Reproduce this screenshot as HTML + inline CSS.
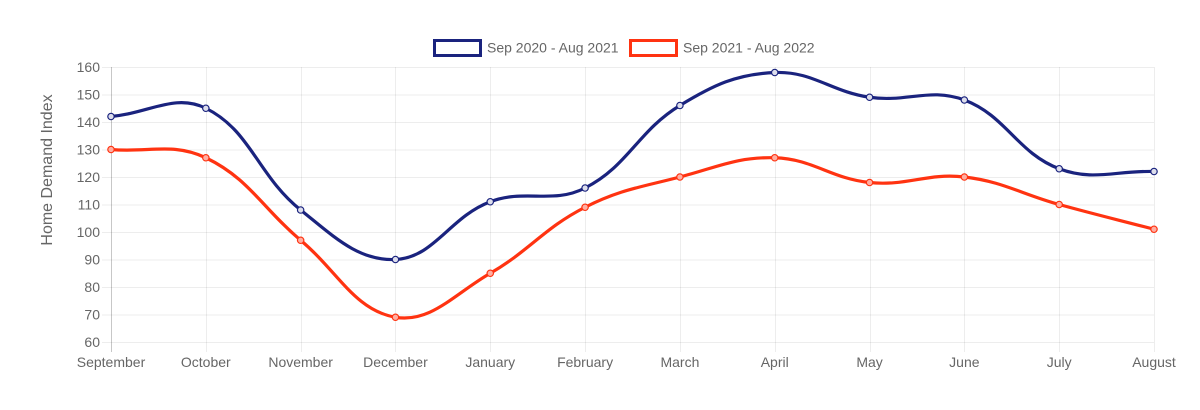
<!DOCTYPE html>
<html><head><meta charset="utf-8">
<style>
html,body{margin:0;padding:0;background:#fff;}
body{width:1200px;height:405px;overflow:hidden;font-family:"Liberation Sans",Arial,sans-serif;}
svg text{font-family:"Liberation Sans",Arial,sans-serif;fill:#666;}
</style></head>
<body>
<svg id="c" width="1200" height="405" viewBox="0 0 1200 405" xmlns="http://www.w3.org/2000/svg">
<g id="grid"></g>
<g id="labels"></g>
<!-- legend -->
<rect x="434.5" y="40.5" width="46" height="15" fill="#fff" stroke="#1a237e" stroke-width="3"/>
<text x="487" y="52.5" font-size="14">Sep 2020 - Aug 2021</text>
<rect x="630.5" y="40.5" width="46" height="15" fill="#fff" stroke="#ff3311" stroke-width="3"/>
<text x="683" y="52.5" font-size="14">Sep 2021 - Aug 2022</text>
<text transform="translate(52,170) rotate(-90)" text-anchor="middle" font-size="16" fill="#555">Home Demand Index</text>
<g id="series"></g>
</svg>
<script>
(function(){
var NS="http://www.w3.org/2000/svg";
function el(t,a,p,txt){var e=document.createElementNS(NS,t);for(var k in a)e.setAttribute(k,a[k]);if(txt!=null)e.textContent=txt;p.appendChild(e);return e;}
var x0=111,x1=1154,yTop=67,yBot=342;
var months=["September","October","November","December","January","February","March","April","May","June","July","August"];
function X(i){return x0+i*(x1-x0)/11;}
function Y(v){return yTop+(160-v)*(yBot-yTop)/100;}
var grid=document.getElementById("grid"),labels=document.getElementById("labels");
for(var v=60;v<=160;v+=10){
  var y=Y(v)+0.5;
  el("line",{x1:102,x2:x1,y1:y,y2:y,stroke:"rgba(0,0,0,0.07)","stroke-width":1},grid);
  el("text",{x:100,y:Y(v)+5,"text-anchor":"end","font-size":14},labels,String(v));
}
for(var i=0;i<12;i++){
  var x=Math.round(X(i))+0.5;
  el("line",{x1:x,x2:x,y1:yTop,y2:yBot+10,stroke:i==0?"rgba(0,0,0,0.22)":"rgba(0,0,0,0.07)","stroke-width":1},grid);
  el("text",{x:X(i),y:367,"text-anchor":"middle","font-size":14},labels,months[i]);
}
var data=[
 {c:"#1a237e",f:"rgba(26,35,126,0.15)",d:[142,145,108,90,111,116,146,158,149,148,123,122]},
 {c:"#ff3311",f:"rgba(255,120,100,0.6)",d:[130,127,97,69,85,109,120,127,118,120,110,101]}
];
var series=document.getElementById("series");
data.forEach(function(s){
  var pts=s.d.map(function(v,i){return {x:X(i),y:Y(v)};});
  var n=pts.length,t=0.4;
  pts.forEach(function(p,i){
    var prev=pts[i>0?i-1:i],next=pts[i<n-1?i+1:i];
    var d01=Math.hypot(p.x-prev.x,p.y-prev.y),d12=Math.hypot(next.x-p.x,next.y-p.y);
    var s01=d01/(d01+d12),s12=d12/(d01+d12);
    if(isNaN(s01))s01=0;if(isNaN(s12))s12=0;
    var fa=t*s01,fb=t*s12;
    p.c1x=p.x-fa*(next.x-prev.x);p.c1y=p.y-fa*(next.y-prev.y);
    p.c2x=p.x+fb*(next.x-prev.x);p.c2y=p.y+fb*(next.y-prev.y);
    function cap(v,lo,hi){return Math.max(lo,Math.min(hi,v));}
    p.c1x=cap(p.c1x,x0,x1);p.c2x=cap(p.c2x,x0,x1);
    p.c1y=cap(p.c1y,yTop,yBot);p.c2y=cap(p.c2y,yTop,yBot);
  });
  var d="M"+pts[0].x+","+pts[0].y;
  for(var i=1;i<n;i++){var a=pts[i-1],b=pts[i];d+=" C"+a.c2x+","+a.c2y+" "+b.c1x+","+b.c1y+" "+b.x+","+b.y;}
  el("path",{d:d,fill:"none",stroke:s.c,"stroke-width":3.2,"stroke-linejoin":"round","stroke-linecap":"round"},series);
  pts.forEach(function(p){el("circle",{cx:p.x,cy:p.y,r:3.2,fill:"#fff",stroke:"none"},series);el("circle",{cx:p.x,cy:p.y,r:3.2,fill:s.f,stroke:s.c,"stroke-width":1.2},series);});
});
})();
</script>
</body></html>
